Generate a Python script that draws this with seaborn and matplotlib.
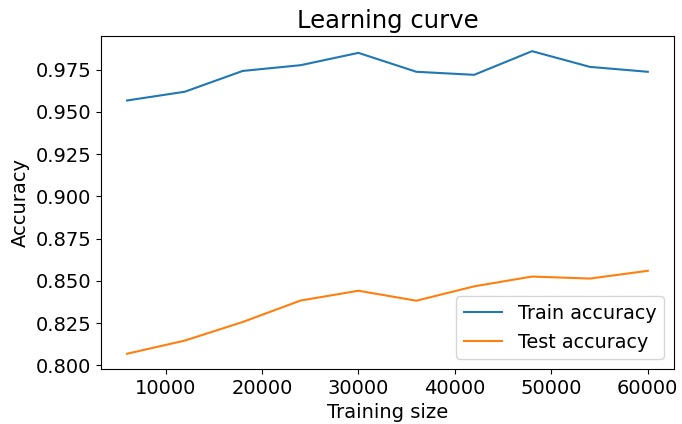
import matplotlib
matplotlib.use("Agg")
import matplotlib.pyplot as plt
import seaborn as sns
import pandas as pd

train_sizes = [6000, 12000, 18000, 24000, 30000, 36000, 42000, 48000, 54000, 60000]
train_accuracy = [0.9568, 0.9620, 0.9743, 0.9777, 0.9850, 0.9738, 0.9720, 0.9860, 0.9767, 0.9738]
test_accuracy = [0.8069, 0.8147, 0.8257, 0.8384, 0.8442, 0.8383, 0.8468, 0.8526, 0.8514, 0.8560]

df = pd.DataFrame({
    "Training size": train_sizes * 2,
    "Accuracy": train_accuracy + test_accuracy,
    "Set": ["Train accuracy"] * len(train_sizes) + ["Test accuracy"] * len(train_sizes),
})

plt.rcParams["font.family"] = ["DejaVu Sans"]
fig, ax = plt.subplots(figsize=(6.82, 4.24), dpi=100)
sns.lineplot(data=df, x="Training size", y="Accuracy", hue="Set",
             palette=["#1f77b4", "#ff7f0e"], linewidth=1.5, ax=ax)

ax.set_title("Learning curve", fontsize=17.5)
ax.set_xlabel("Training size", fontsize=14)
ax.set_ylabel("Accuracy", fontsize=14)
ax.tick_params(labelsize=14)
ax.legend(loc="lower right", fontsize=13.8)

fig.subplots_adjust(left=0.148, right=0.988, top=0.915, bottom=0.13)
fig.savefig("out.png", dpi=100)
